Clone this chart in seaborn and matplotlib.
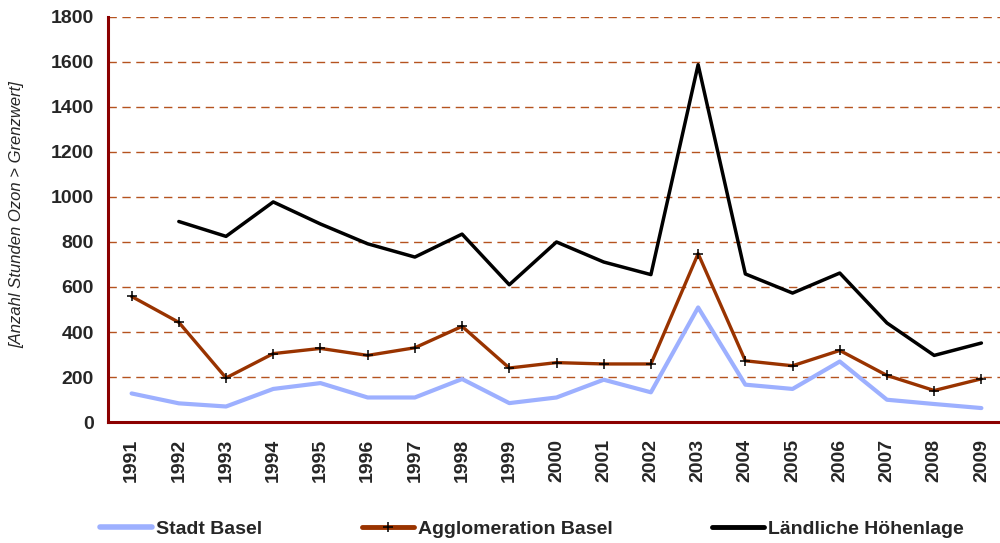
import numpy as np
import pandas as pd
import matplotlib.pyplot as plt
import seaborn as sns
from matplotlib.lines import Line2D

# ── Data ──────────────────────────────────────────────────────────────────────
years = list(range(1991, 2010))
stadt_basel = [127, 83, 69, 147, 173, 109, 109, 191, 84, 109,
               188, 132, 509, 166, 147, 269, 99, 80, 62]
agglomeration = [558, 443, 196, 304, 327, 296, 330, 425, 240, 264,
                 258, 258, 748, 272, 250, 318, 207, 140, 192]
laendlich = [np.nan, 891, 825, 978, 880, 792, 733, 835, 610, 800,
             711, 655, 1588, 658, 573, 662, 440, 296, 351]
series_names = ["Stadt Basel", "Agglomeration Basel", "Ländliche Höhenlage"]
y_ticks = list(range(0, 1801, 200))

# ── Style ─────────────────────────────────────────────────────────────────────
SPINE_RED = "#8B0000"
GRID_BROWN = "#B5531F"
COLORS = {"Stadt Basel": "#9DB0FF",
          "Agglomeration Basel": "#993300",
          "Ländliche Höhenlage": "#000000"}
WIDTHS = {"Stadt Basel": 3.0,
          "Agglomeration Basel": 2.4,
          "Ländliche Höhenlage": 2.5}

sns.set_style("white")
plt.rcParams["font.family"] = ["Liberation Sans", "DejaVu Sans"]

df = pd.DataFrame({
    "pos": np.arange(len(years)),
    "Stadt Basel": stadt_basel,
    "Agglomeration Basel": agglomeration,
    "Ländliche Höhenlage": laendlich,
})

fig = plt.figure(figsize=(10, 5.43), dpi=100)
ax = fig.add_axes([0.108, 0.2228, 0.897, 0.746])

for name in series_names:
    sub = df[["pos", name]].dropna()
    sns.lineplot(data=sub, x="pos", y=name, ax=ax, color=COLORS[name],
                 linewidth=WIDTHS[name], legend=False, zorder=3)
    if name == "Agglomeration Basel":
        ax.plot(sub["pos"], sub[name], linestyle="none", marker="+",
                markersize=7, markeredgewidth=1.1, color="black", zorder=4)

ax.set_xlim(-0.5, len(years) - 0.5)
ax.set_ylim(0, 1800)
ax.set_yticks(y_ticks)
ax.set_yticklabels([str(v) for v in y_ticks], fontsize=14, fontweight="bold")
for v in y_ticks[1:]:
    ax.axhline(v, color=GRID_BROWN, linestyle=(0, (6, 4)), linewidth=1.0, zorder=1)

ax.set_xticks(np.arange(len(years)))
ax.set_xticklabels([str(y) for y in years], rotation=90, fontsize=14,
                   fontweight="bold")
ax.set_xticks(np.arange(len(years) + 1) - 0.5, minor=True)
ax.tick_params(axis="x", which="major", length=0, pad=12)
ax.tick_params(axis="x", which="minor", length=6, width=2, color=SPINE_RED,
               direction="out")
ax.tick_params(axis="y", length=6, width=2, color=SPINE_RED, direction="out",
               pad=4)

for side in ["top", "right"]:
    ax.spines[side].set_visible(False)
for side in ["left", "bottom"]:
    ax.spines[side].set_color(SPINE_RED)
    ax.spines[side].set_linewidth(2.2)

ax.set_xlabel("")
ax.set_ylabel("")
fig.text(0.017, 0.604, "[Anzahl Stunden Ozon > Grenzwert]", fontsize=12,
         fontstyle="italic", rotation=90, ha="center", va="center")

handles = [
    Line2D([], [], color=COLORS["Stadt Basel"], linewidth=4),
    Line2D([], [], color=COLORS["Agglomeration Basel"], linewidth=3.5,
           marker="+", markersize=7, markeredgecolor="black",
           markeredgewidth=1.1),
    Line2D([], [], color=COLORS["Ländliche Höhenlage"], linewidth=3.5),
]
leg = fig.legend(handles, series_names, loc="center", ncol=3,
                 bbox_to_anchor=(0.532, 0.026), frameon=False,
                 prop={"size": 14, "weight": "bold"},
                 handlelength=2.7, handletextpad=0.2, columnspacing=5.1)

fig.savefig("out.png", dpi=100)
